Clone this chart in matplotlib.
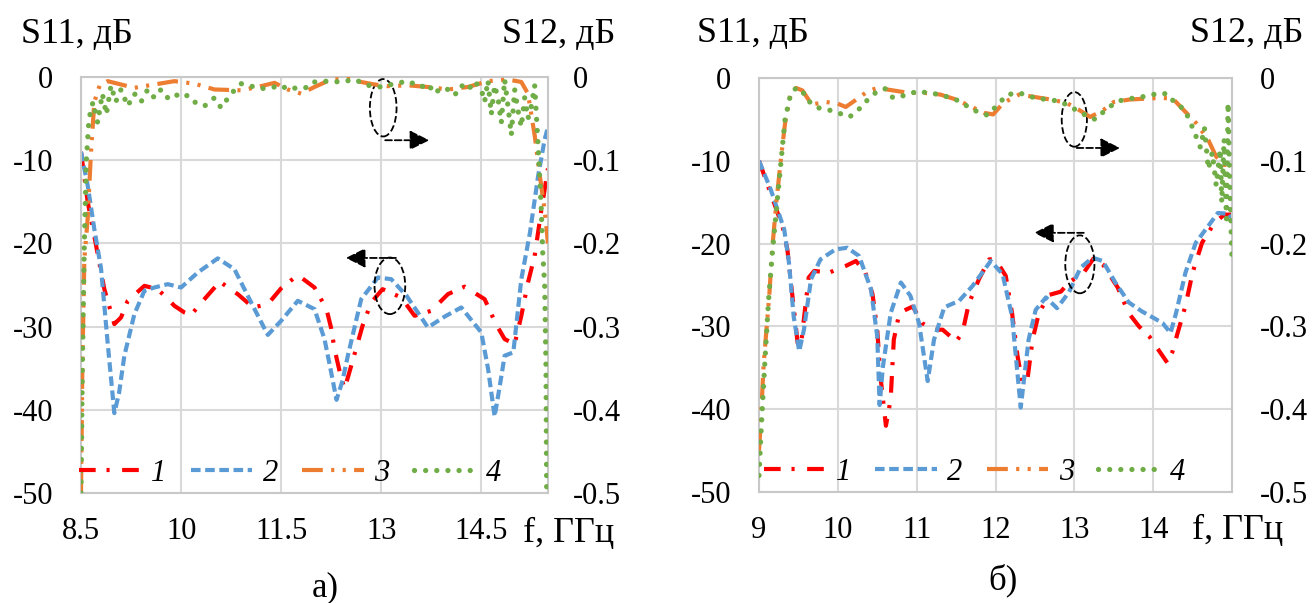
import matplotlib
matplotlib.use('Agg')
import matplotlib.pyplot as plt
from matplotlib.patches import Ellipse

plt.rcParams['font.family'] = ['Liberation Serif', 'DejaVu Serif']
plt.rcParams['axes.unicode_minus'] = False

# ---- panel a): S11 (curves 1, 2) in dB, S12 (curves 3, 4) in dB ----
f1a = [8.5, 8.6, 8.72, 8.85, 9.0, 9.1, 9.2, 9.45, 9.65, 9.9, 10.05, 10.15, 10.35, 10.58,
       10.85, 11.08, 11.3, 11.5, 11.75, 12.0, 12.18, 12.25, 12.3, 12.38, 12.45, 12.54,
       12.65, 12.72, 12.85, 13.02, 13.3, 13.5, 13.75, 14.0, 14.25, 14.55, 14.72, 14.85,
       15.0, 15.1, 15.2, 15.3, 15.4, 15.5]
s1a = [-9, -15, -20, -25.5, -29.7, -28.9, -26.9, -25.1, -25.5, -27.5, -28.3, -28.6, -26.7,
       -24.6, -26.1, -27.7, -27.3, -25.4, -23.8, -25.3, -27.9, -30.2, -32.7, -35.5, -37.5,
       -35, -31.9, -29.9, -27.1, -25.5, -26.5, -28.7, -28.1, -26.1, -25.2, -26.7, -29.7,
       -31.5, -32.1, -28.7, -24.7, -21.5, -16, -11]

f2a = [8.5, 8.6, 8.7, 8.8, 8.9, 9.0, 9.07, 9.15, 9.3, 9.45, 9.6, 9.8, 10.0, 10.25, 10.55,
       10.8, 11.05, 11.3, 11.5, 11.75, 12.0, 12.15, 12.25, 12.33, 12.42, 12.5, 12.7, 12.95,
       13.15, 13.38, 13.7, 13.95, 14.2, 14.5, 14.6, 14.7, 14.78, 14.85, 14.98, 15.1, 15.23,
       15.35, 15.45, 15.5]
s2a = [-9, -13, -18.3, -23, -32, -40.4, -38, -33.5, -28.5, -25.7, -25.3, -24.9, -25.3,
       -23.5, -21.8, -23.1, -27.1, -31.0, -29.3, -26.9, -27.9, -31.5, -35.5, -38.8, -36.5,
       -33.5, -26.7, -24.1, -24.3, -26.3, -30.1, -28.8, -27.7, -30.7, -35, -40.8, -37,
       -33.5, -33.1, -24.3, -18.7, -12, -7.5, -6]

f3a = [8.5, 8.52, 8.55, 8.6, 8.65, 8.7, 8.78, 8.9, 9.05, 9.3, 9.6, 9.9, 10.2, 10.5, 10.9,
       11.15, 11.4, 11.6, 11.8, 12.0, 12.25, 12.5, 12.7, 12.9, 13.1, 13.4, 13.7, 14.0, 14.3,
       14.6, 14.9, 15.1, 15.2, 15.3, 15.38, 15.45, 15.5]
s3a = [-0.50, -0.35, -0.22, -0.17, -0.09, -0.03, -0.01, -0.005, -0.008, -0.013, -0.009,
       -0.005, -0.008, -0.015, -0.016, -0.012, -0.007, -0.015, -0.02, -0.012, -0.003,
       -0.002, -0.006, -0.009, -0.011, -0.010, -0.012, -0.015, -0.012, -0.005, -0.003,
       -0.006, -0.02, -0.07, -0.12, -0.16, -0.2]

f4a = [8.5, 8.52, 8.55, 8.58, 8.62, 8.68, 8.75, 8.82, 8.88, 8.95, 9.02, 9.1, 9.2, 9.3, 9.4,
       9.5, 9.6, 9.7, 9.8, 9.9, 10.0, 10.1, 10.2, 10.35, 10.5, 10.6, 10.75, 10.9, 11.0, 11.2,
       11.4, 11.5, 11.6, 11.8, 11.9, 12.0, 12.2, 12.4, 12.6, 12.8, 13.0, 13.2, 13.4, 13.6,
       13.7, 13.8, 13.9, 14.0, 14.1, 14.2, 14.3, 14.4, 14.5, 14.55, 14.6, 14.65, 14.7, 14.75,
       14.8, 14.85, 14.9, 14.95, 15.0, 15.05, 15.1, 15.15, 15.2, 15.25, 15.3, 15.35, 15.4,
       15.42, 15.45, 15.47, 15.48]
s4a = [-0.50, -0.35, -0.20, -0.10, -0.05, -0.03, -0.055, -0.02, -0.045, -0.01, -0.03,
       -0.015, -0.035, -0.02, -0.03, -0.015, -0.025, -0.015, -0.025, -0.02, -0.025, -0.022,
       -0.03, -0.035, -0.025, -0.037, -0.02, -0.008, -0.01, -0.014, -0.012, -0.01, -0.015,
       -0.012, -0.013, -0.006, -0.005, -0.006, -0.003, -0.01, -0.012, -0.008, -0.005,
       -0.012, -0.008, -0.02, -0.013, -0.015, -0.022, -0.01, -0.016, -0.005, -0.015, -0.03,
       -0.004, -0.045, -0.01, -0.025, -0.055, -0.003, -0.035, -0.07, -0.015, -0.04, -0.06,
       -0.025, -0.05, -0.035, -0.01, -0.08, -0.16, -0.21, -0.25, -0.35, -0.50]

# ---- panel б) ----
f1b = [9.0, 9.15, 9.3, 9.36, 9.42, 9.49, 9.53, 9.63, 9.7, 9.89, 10.1, 10.23, 10.35, 10.44,
       10.5, 10.54, 10.61, 10.67, 10.71, 10.78, 10.86, 10.95, 11.07, 11.2, 11.33, 11.5,
       11.58, 11.66, 11.79, 11.92, 12.0, 12.13, 12.21, 12.28, 12.34, 12.4, 12.47, 12.55,
       12.68, 12.83, 12.93, 13.12, 13.25, 13.36, 13.55, 13.69, 13.82, 13.95, 14.05, 14.18,
       14.24, 14.31, 14.41, 14.5, 14.62, 14.77, 14.9, 15.0]
s1b = [-10, -14, -18, -20.7, -26, -32, -32.4, -24.1, -23.3, -23.5, -22.7, -22.1, -23.5,
       -26.1, -30.4, -36, -42, -38.8, -31.6, -28.4, -28, -27.6, -29.6, -30.4, -30.4, -31.8,
       -30.8, -27.3, -24.3, -21.9, -21.9, -23.9, -28.4, -33.6, -36.8, -36.8, -31.6, -28.4,
       -26.2, -25.8, -24.7, -23.5, -21.7, -22.5, -25.3, -28.4, -30, -31.2, -32.6, -34.4,
       -33.2, -30.8, -27.5, -23.5, -19.9, -17.6, -16.5, -16.5]

f2b = [9.0, 9.15, 9.32, 9.38, 9.44, 9.51, 9.57, 9.66, 9.78, 9.97, 10.12, 10.27, 10.42,
       10.5, 10.53, 10.57, 10.67, 10.8, 10.92, 11.03, 11.14, 11.22, 11.35, 11.54, 11.71,
       11.94, 12.09, 12.21, 12.32, 12.42, 12.51, 12.64, 12.78, 12.93, 13.08, 13.23, 13.36,
       13.52, 13.69, 13.86, 14.01, 14.12, 14.22, 14.29, 14.41, 14.54, 14.72, 14.82, 14.96,
       15.0]
s2b = [-10, -13.5, -18.3, -22.3, -28.8, -33, -30.4, -24.3, -21.9, -20.7, -20.5, -21.5,
       -25.5, -31.2, -39.5, -35, -28.4, -24.7, -26.3, -29.6, -36.6, -31.6, -27.7, -26.9,
       -25.1, -22.1, -23.7, -28.8, -39.8, -31.6, -28, -26.5, -27.8, -25.9, -22.9, -21.7,
       -22.1, -24.7, -27.1, -28.2, -29, -29.6, -30.8, -28.4, -23.5, -19.9, -17.6, -16.3,
       -16.4, -17]

f3b = [9.0, 9.02, 9.06, 9.13, 9.17, 9.22, 9.28, 9.33, 9.4, 9.47, 9.55, 9.67, 9.85, 10.0,
       10.1, 10.25, 10.38, 10.5, 10.7, 10.9, 11.1, 11.3, 11.5, 11.7, 11.85, 11.97, 12.1,
       12.3, 12.5, 12.7, 12.9, 13.05, 13.2, 13.35, 13.5, 13.7, 13.9, 14.1, 14.25, 14.4,
       14.55, 14.7, 14.8, 14.9, 15.0]
s3b = [-0.45, -0.42, -0.344, -0.263, -0.204, -0.15, -0.096, -0.055, -0.019, -0.012,
       -0.015, -0.032, -0.029, -0.031, -0.035, -0.025, -0.016, -0.012, -0.015, -0.018,
       -0.018, -0.02, -0.026, -0.035, -0.042, -0.044, -0.03, -0.02, -0.023, -0.026, -0.03,
       -0.038, -0.047, -0.04, -0.029, -0.026, -0.025, -0.024, -0.025, -0.04, -0.055,
       -0.075, -0.095, -0.105, -0.105]

f4b = [9.0, 9.03, 9.07, 9.12, 9.17, 9.22, 9.28, 9.33, 9.4, 9.47, 9.55, 9.6, 9.75, 9.9,
       10.0, 10.15, 10.3, 10.38, 10.5, 10.6, 10.7, 10.9, 11.0, 11.3, 11.55, 11.7, 11.9, 12.0,
       12.15, 12.3, 12.5, 12.65, 12.82, 12.93, 13.05, 13.2, 13.27, 13.4, 13.55, 13.7, 13.85,
       14.0, 14.1, 14.2, 14.27, 14.4, 14.5, 14.55, 14.6, 14.65, 14.7, 14.75, 14.8, 14.85,
       14.87, 14.9, 14.93, 14.95, 14.97, 15.0]
s4b = [-0.48, -0.42, -0.35, -0.27, -0.21, -0.16, -0.10, -0.05, -0.02, -0.012, -0.015,
       -0.026, -0.036, -0.039, -0.042, -0.047, -0.035, -0.026, -0.016, -0.013, -0.024,
       -0.02, -0.016, -0.02, -0.028, -0.038, -0.045, -0.035, -0.02, -0.018, -0.024, -0.026,
       -0.028, -0.034, -0.04, -0.048, -0.05, -0.038, -0.028, -0.025, -0.023, -0.02, -0.018,
       -0.02, -0.03, -0.038, -0.06, -0.072, -0.084, -0.06, -0.11, -0.09, -0.13, -0.086,
       -0.15, -0.074, -0.17, -0.03, -0.12, -0.22]

xticks_a = [8.5, 10, 11.5, 13, 14.5]
xticklabels_a = ['8.5', '10', '11.5', '13', '14.5']
xticks_b = [9, 10, 11, 12, 13, 14]
xticklabels_b = ['9', '10', '11', '12', '13', '14']
yticks_left = [0, -10, -20, -30, -40, -50]
yticklabels_left = ['0', '-10', '-20', '-30', '-40', '-50']
yticks_right = [0, -0.1, -0.2, -0.3, -0.4, -0.5]
yticklabels_right = ['0', '-0.1', '-0.2', '-0.3', '-0.4', '-0.5']
legend_labels = ['1', '2', '3', '4']

W, H = 1312, 603
FS = 22
TFS = 26


def px(x, y):
    return x / W, 1 - y / H


def panel(rect, xlim, xticks, xticklabels, data, ellipses, arrows, leg_x,
          rpad):
    ax = fig.add_axes(rect)
    ax.set_xlim(xlim)
    ax.set_ylim(-50, 0)
    ax.set_xticks(xticks)
    ax.set_xticklabels(xticklabels)
    ax.set_yticks(yticks_left)
    ax.set_yticklabels(yticklabels_left)
    ax.grid(True, color='#D9D9D9', lw=1.5)
    ax.set_axisbelow(True)
    ax.tick_params(length=0, labelsize=FS)
    ax.tick_params(axis='y', pad=20)
    ax.tick_params(axis='x', pad=17)
    for sp in ax.spines.values():
        sp.set_color('#C8C8C8')
        sp.set_linewidth(1.5)

    ax2 = ax.twinx()
    ax2.set_ylim(-0.5, 0)
    ax2.set_yticks(yticks_right)
    ax2.set_yticklabels(yticklabels_right)
    ax2.tick_params(length=0, labelsize=FS, pad=rpad)
    for sp in ax2.spines.values():
        sp.set_visible(False)

    f1, s1, f2, s2, f3, s3, f4, s4 = data
    l1, = ax.plot(f1, s1, color='#FF0000', lw=3.0, dashes=[4, 2.6, 0.75, 3],
                  dash_capstyle='butt')
    l2, = ax.plot(f2, s2, color='#5B9BD5', lw=3.0, dashes=[2.3, 1.1],
                  dash_capstyle='butt')
    l3, = ax2.plot(f3, s3, color='#ED7D31', lw=3.0,
                   dashes=[5, 2, 0.75, 2, 0.75, 2], dash_capstyle='butt')
    l4, = ax2.plot(f4, s4, color='#70AD47', lw=3.8, dashes=[0.01, 2.1],
                   dash_capstyle='round')

    for (cx, cy, w, h) in ellipses:
        e = Ellipse((cx, cy), w, h, fill=False, ec='black', lw=1.3, ls='--',
                    transform=ax.transData)
        ax2.add_patch(e)
    for (xa, xb, y) in arrows:
        ax2.annotate('', xy=(xb, y), xytext=(xa, y), xycoords=ax.transData,
                     textcoords=ax.transData,
                     arrowprops=dict(arrowstyle='-|>,head_length=0.8,head_width=0.4',
                                     ls='--', lw=1.3, color='black',
                                     mutation_scale=15, shrinkA=0, shrinkB=0))

    ax2.legend([l1, l2, l3, l4], legend_labels, ncol=4, frameon=False,
               loc='center', bbox_to_anchor=(leg_x, 0.048),
               prop={'style': 'italic', 'size': FS}, handlelength=2.0,
               handletextpad=0.35, columnspacing=0.8, borderaxespad=0)
    return ax


fig = plt.figure(figsize=(W / 100, H / 100), dpi=100)

# panel a)
panel([81 / W, 1 - 493 / H, 467 / W, 416 / H], (8.5, 15.5), xticks_a, xticklabels_a,
      (f1a, s1a, f2a, s2a, f3a, s3a, f4a, s4a),
      [(13.03, -3.7, 0.40, 6.9), (13.13, -25.1, 0.46, 6.8)],
      [(13.06, 13.72, -7.6), (13.22, 12.47, -21.75)], 0.448, 18)

# panel б)
panel([759 / W, 1 - 492 / H, 473 / W, 414 / H], (9, 15), xticks_b, xticklabels_b,
      (f1b, s1b, f2b, s2b, f3b, s3b, f4b, s4b),
      [(13.0, -5.0, 0.32, 6.6), (13.07, -22.5, 0.37, 7.0)],
      [(13.03, 13.58, -8.45), (13.12, 12.49, -18.7)], 0.456, 20)

# axis titles
fig.text(*px(21, 43), 'S11, дБ', fontsize=TFS, va='baseline')
fig.text(*px(502, 43), 'S12, дБ', fontsize=TFS, va='baseline')
fig.text(*px(697, 42), 'S11, дБ', fontsize=TFS, va='baseline')
fig.text(*px(1190, 42), 'S12, дБ', fontsize=TFS, va='baseline')
fig.text(*px(523, 542), 'f, ГГц', fontsize=TFS, va='baseline')
fig.text(*px(1192, 539), 'f, ГГц', fontsize=TFS, va='baseline')

# captions
fig.text(*px(325, 596), 'а)', fontsize=25, va='baseline', ha='center')
fig.text(*px(1003, 589), 'б)', fontsize=25, va='baseline', ha='center')

fig.savefig('out.png', dpi=100)
